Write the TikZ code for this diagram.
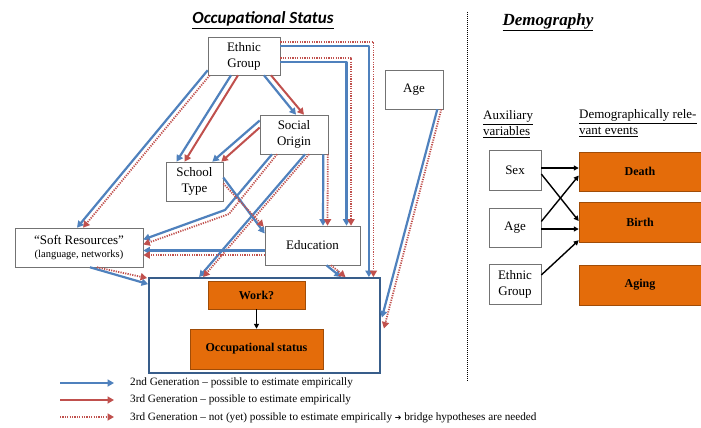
\documentclass[tikz,border=0pt]{standalone}
\usepackage{fontspec}
\setmainfont{Liberation Serif}
\newfontfamily\carlito{Carlito}
\newfontfamily\dejavu{DejaVu Sans}
\usetikzlibrary{arrows.meta,calc}
\definecolor{bl}{HTML}{4F81BD}
\definecolor{rd}{HTML}{C0504D}
\definecolor{org}{HTML}{E46C0A}
\definecolor{frm}{HTML}{385D8A}
\tikzset{
 box/.style={draw=black!55, line width=0.6pt, fill=white, inner sep=0pt, align=center, font=\fontsize{13}{16}\selectfont},
 obox/.style={draw=org!70!black, line width=0.5pt, fill=org, inner sep=0pt, font=\bfseries\fontsize{12}{14}\selectfont},
 ba/.style={draw=bl, line width=2.2pt, line join=round, -{Triangle[length=6.5pt,width=7pt]}},
 ra/.style={draw=rd, line width=2pt, line join=round, -{Triangle[length=6.5pt,width=7pt]}},
 rda/.style={draw=rd, line width=1.8pt, line join=round, dash pattern=on 1.2pt off 1.2pt, -{Triangle[length=6.5pt,width=7pt]}},
 ka/.style={draw=black, line width=1.4pt, -{Triangle[length=5pt,width=5pt]}},
 title/.style={inner sep=0pt},
 lab/.style={inner sep=0pt, anchor=west, align=left, font=\fontsize{13}{15.5}\selectfont},
 leg/.style={inner sep=0pt, anchor=west, font=\fontsize{11.2}{12}\selectfont},
}
\begin{document}
\begin{tikzpicture}[x=1pt,y=-1pt]
\useasboundingbox[fill=white] (0,0) rectangle (701,428);

% titles
\node[title, font=\carlito\bfseries\itshape\fontsize{17}{19}\selectfont] (t1) at (263,20) {\underline{Occupational Status}};
\node[title, font=\bfseries\itshape\fontsize{17}{19}\selectfont] (t2) at (548,22) {\underline{Demography}};

% separator
\coordinate (s1) at (467,12);
\coordinate (s2) at (467,381);
\draw[black, line width=1pt, dash pattern=on 1pt off 1pt] (s1) -- (s2);

% left boxes
\node[box, minimum width=72pt, minimum height=38pt] (eth) at (244,56) {Ethnic\\Group};
\node[box, minimum width=58pt, minimum height=39pt] (agel) at (414,89.5) {Age};
\node[box, minimum width=68pt, minimum height=39pt] (soc) at (294,134.5) {Social\\Origin};
\node[box, minimum width=57pt, minimum height=39pt] (sch) at (194.5,181.5) {School\\Type};
\node[box, minimum width=128pt, minimum height=39pt] (soft) at (79,247.5) {``Soft Resources''\\[-3pt]{\fontsize{10.5}{12}\selectfont (language, networks)}};
\node[box, minimum width=95pt, minimum height=39pt] (edu) at (312.5,245.5) {Education};
\node[draw=frm, line width=1.8pt, fill=white, minimum width=231pt, minimum height=95pt, inner sep=0pt] (big) at (264.5,325.5) {};
\node[obox, minimum width=97pt, minimum height=28pt] (work) at (256.5,295) {Work?};
\node[obox, minimum width=133pt, minimum height=40pt] (occ) at (256.5,349) {Occupational status};
\draw[ka] (work.south) -- (occ.north);

% arrows
% Ethnic -> Soft
\draw[ba] ([shift={(0,-5)}]eth.south west) -- ([shift={(-2,0)}]soft.north);
\draw[rda] ([shift={(2,0)}]eth.south west) -- ([shift={(4,0)}]soft.north);
% Ethnic -> School
\draw[ba] ([shift={(-13,0)}]eth.south) -- ([shift={(-18,0)}]sch.north);
\draw[ra] ([shift={(-6,0)}]eth.south) -- ([shift={(-10,0)}]sch.north);
% Ethnic -> Social origin
\draw[ba] ([shift={(20,0)}]eth.south) -- ([shift={(2,0)}]soc.north);
\draw[ra] ([shift={(27,0)}]eth.south) -- ([shift={(10,0)}]soc.north);
% Social origin -> School
\draw[ba] ([shift={(0,-14)}]soc.west) -- ([shift={(-11,0)}]sch.north east);
\draw[ra] ([shift={(0,-7)}]soc.west) -- ([shift={(-2,0)}]sch.north east);
% Ethnic -> Education (right route)
\draw[ba] ([shift={(0,6)}]eth.east) -| ([shift={(34,0)}]edu.north);
\draw[rda] ([shift={(0,2)}]eth.east) -| ([shift={(38.5,0)}]edu.north);
% Ethnic -> big box (outer route)
\draw[ba] ([shift={(0,-10)}]eth.east) -| ([shift={(-12,0)}]big.north east);
\draw[rda] ([shift={(0,-14)}]eth.east) -| ([shift={(-7.5,0)}]big.north east);
% Social origin -> Education
\draw[ba] ([shift={(-5,0)}]soc.south east) -- ([shift={(10.5,0)}]edu.north);
\draw[rda] ([shift={(-0.5,0)}]soc.south east) -- ([shift={(15,0)}]edu.north);
% Social origin -> Soft (bent)
\coordinate (b8a) at (225,210);
\coordinate (b8b) at (229,214);
\draw[ba] ([shift={(-22,0)}]soc.south) -- (b8a) -- ([shift={(0,-8)}]soft.east);
\draw[rda] ([shift={(-17,0)}]soc.south) -- (b8b) -- ([shift={(0,-3)}]soft.east);
% Social origin -> big box
\draw[ba] ([shift={(11,0)}]soc.south) -- ([shift={(51,0)}]big.north west);
\draw[rda] ([shift={(15,0)}]soc.south) -- ([shift={(55,0)}]big.north west);
% School -> Education
\draw[ba] ([shift={(0,-4)}]sch.east) -- ([shift={(0,-12)}]edu.west);
\draw[rda] ([shift={(0,2)}]sch.east) -- ([shift={(-1,1)}]edu.north west);
% Education -> Soft
\draw[ba] ([shift={(0,5)}]edu.west) -- ([shift={(0,3)}]soft.east);
\draw[rda] ([shift={(0,9.5)}]edu.west) -- ([shift={(0,7.5)}]soft.east);
% Education -> big box
\draw[ba] ([shift={(14,0)}]edu.south) -- ([shift={(76.5,0)}]big.north);
\draw[rda] ([shift={(18.5,0)}]edu.south) -- ([shift={(81,0)}]big.north);
% Soft -> big box
\draw[ba] ([shift={(11,0)}]soft.south) -- ([shift={(0,7)}]big.north west);
\draw[rda] ([shift={(18,0)}]soft.south) -- ([shift={(-1,1)}]big.north west);
% Age -> big box
\draw[ba] ([shift={(-6,0)}]agel.south east) -- ([shift={(1,-8)}]big.east);
\draw[rda] ([shift={(-2,0)}]agel.south east) -- ([shift={(3,3)}]big.east);

% legend
\coordinate (l1a) at (60,383); \coordinate (l1b) at (114,383);
\coordinate (l2a) at (60,400); \coordinate (l2b) at (114,400);
\coordinate (l3a) at (60,417); \coordinate (l3b) at (114,417);
\draw[ba] (l1a) -- (l1b);
\draw[ra] (l2a) -- (l2b);
\draw[rda] (l3a) -- (l3b);
\node[leg] (lt1) at (130,383) {2nd Generation -- possible to estimate empirically};
\node[leg] (lt2) at (130,400) {3rd Generation -- possible to estimate empirically};
\node[leg] (lt3) at (130,418) {3rd Generation -- not (yet) possible to estimate empirically {\dejavu\fontsize{8}{10}\selectfont ➔} bridge hypotheses are needed};

% demography
\node[lab] (aux) at (483,124) {\underline{Auxiliary}\\\underline{variables}};
\node[lab] (dre) at (579,123) {\underline{Demographically rele-}\\\underline{vant events}};
\node[box, minimum width=52pt, minimum height=40pt] (sex) at (515,170) {Sex};
\node[box, minimum width=52pt, minimum height=39pt] (ager) at (515,227.5) {Age};
\node[box, minimum width=52pt, minimum height=40pt] (ethr) at (515,284) {Ethnic\\Group};
\node[obox, minimum width=126pt, minimum height=39pt] (death) at (642,171.5) {\hspace*{-4pt}Death};
\node[obox, minimum width=126pt, minimum height=40pt] (birth) at (642,222) {\hspace*{-4pt}Birth};
\node[obox, minimum width=126pt, minimum height=40pt] (aging) at (642,285) {\hspace*{-4pt}Aging};
\draw[ka] ([shift={(0,-2)}]sex.east) -- ([shift={(0,-3.5)}]death.west);
\draw[ka] ([shift={(0,4)}]sex.east) -- ([shift={(0,-1)}]birth.west);
\draw[ka] ([shift={(0,-6)}]ager.east) -- ([shift={(0,4)}]death.west);
\draw[ka] ([shift={(0,1.5)}]ager.east) -- ([shift={(0,7)}]birth.west);
\draw[ka] ([shift={(0,-9)}]ethr.east) -- ([shift={(0,-2)}]birth.south west);
\end{tikzpicture}
\end{document}
